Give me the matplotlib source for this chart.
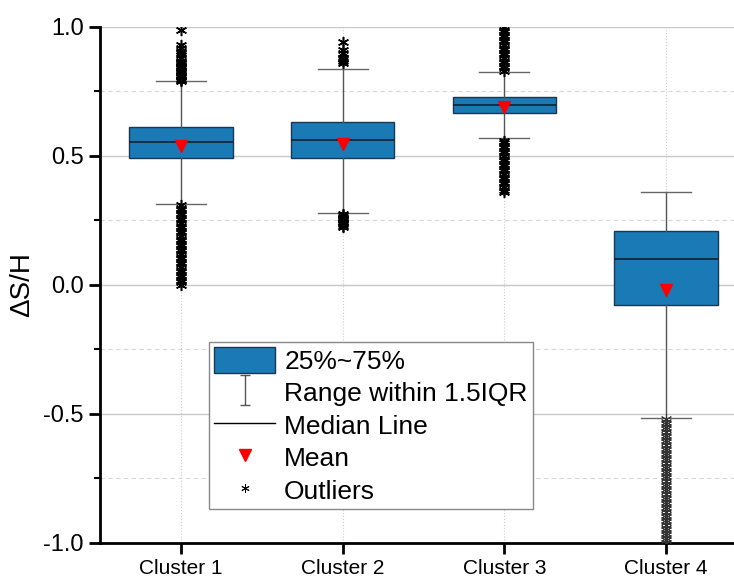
import matplotlib
matplotlib.use("Agg")
import matplotlib.pyplot as plt
from matplotlib.lines import Line2D
from matplotlib.patches import Patch
from matplotlib.path import Path

plt.rcParams['font.family'] = ['Liberation Sans', 'DejaVu Sans']

# ---------- data ----------
clusters = ["Cluster 1", "Cluster 2", "Cluster 3", "Cluster 4"]
q1 = [0.492, 0.492, 0.665, -0.078]
median = [0.554, 0.562, 0.698, 0.100]
q3 = [0.612, 0.632, 0.728, 0.209]
mean = [0.539, 0.545, 0.690, -0.020]
whisker_low = [0.314, 0.280, 0.568, -0.516]
whisker_high = [0.790, 0.837, 0.824, 0.360]

outliers_c1 = [0.79, 0.795, 0.80, 0.805, 0.81, 0.815, 0.82, 0.825, 0.83, 0.835,
               0.84, 0.845, 0.85, 0.855, 0.86, 0.865, 0.87, 0.88, 0.89, 0.90,
               0.905, 0.92, 0.93, 0.99,
               0.31, 0.30, 0.29, 0.28, 0.27, 0.26, 0.25, 0.24, 0.23, 0.22,
               0.21, 0.20, 0.19, 0.18, 0.17, 0.16, 0.15, 0.14, 0.13, 0.12,
               0.11, 0.10, 0.09, 0.08, 0.07, 0.06, 0.05, 0.04, 0.03, 0.02,
               0.01, 0.0]
outliers_c2 = [0.86, 0.87, 0.875, 0.88, 0.90, 0.91, 0.94,
               0.275, 0.27, 0.265, 0.26, 0.255, 0.25, 0.245, 0.24, 0.235,
               0.23, 0.225]
outliers_c3 = [0.83, 0.84, 0.85, 0.86, 0.87, 0.88, 0.89, 0.90, 0.91, 0.92,
               0.93, 0.94, 0.95, 0.96, 0.97, 0.98, 0.99, 1.0,
               0.56, 0.55, 0.54, 0.53, 0.52, 0.51, 0.50, 0.49, 0.48, 0.47,
               0.46, 0.45, 0.44, 0.43, 0.42, 0.41, 0.40, 0.39, 0.38, 0.37,
               0.36]
outliers_c4 = [-0.52, -0.53, -0.54, -0.55, -0.56, -0.57, -0.58, -0.59, -0.60,
               -0.61, -0.62, -0.63, -0.64, -0.65, -0.66, -0.67, -0.68, -0.69,
               -0.70, -0.71, -0.72, -0.73, -0.74, -0.75, -0.76, -0.77, -0.78,
               -0.79, -0.80, -0.81, -0.82, -0.83, -0.84, -0.85, -0.86, -0.87,
               -0.88, -0.89, -0.90, -0.91, -0.92, -0.93, -0.94, -0.95, -0.96,
               -0.97, -0.98, -0.99, -1.0]
outliers = [outliers_c1, outliers_c2, outliers_c3, outliers_c4]

box_color = "#1a7ab5"
asterisk = (6, 2, 0)

stats = []
for i in range(len(clusters)):
    stats.append(dict(label=clusters[i], q1=q1[i], med=median[i], q3=q3[i],
                      mean=mean[i], whislo=whisker_low[i],
                      whishi=whisker_high[i], fliers=outliers[i]))

fig = plt.figure(figsize=(7.34, 5.79), dpi=100)
ax = fig.add_axes([0.1362, 0.0622, 0.8638, 0.8912])

positions = list(range(1, len(clusters) + 1))
parts = ax.bxp(stats, positions=positions, widths=0.64, showmeans=True,
               patch_artist=True,
               boxprops=dict(facecolor=box_color, edgecolor="#1c3550", linewidth=1),
               medianprops=dict(color="#0d2236", linewidth=1.2),
               whiskerprops=dict(color="#555555", linewidth=1),
               capprops=dict(color="#666666", linewidth=1),
               capwidths=0.31,
               meanprops=dict(marker="v", markerfacecolor="red",
                              markeredgecolor="red", markersize=9),
               flierprops=dict(marker=asterisk, markeredgecolor="black",
                               markersize=8, markeredgewidth=1.1),
               zorder=3)
# cluster 4 outliers look lighter / speckled in the original
parts["fliers"][3].set_markeredgewidth(0.7)
parts["fliers"][3].set_markeredgecolor("#333333")

ax.set_xlim(0.5, 4.42)
ax.set_ylim(-1.0, 1.0)
ax.set_xticks(positions)
ax.set_xticklabels(clusters, fontsize=15)
ax.set_yticks([-1.0, -0.5, 0.0, 0.5, 1.0])
ax.set_yticklabels(["-1.0", "-0.5", "0.0", "0.5", "1.0"], fontsize=17)
ax.set_yticks([-0.75, -0.25, 0.25, 0.75], minor=True)
ax.set_ylabel("ΔS/H", fontsize=20, labelpad=6)

ax.grid(axis="y", which="major", color="#c8c8c8", linewidth=1, zorder=0)
ax.grid(axis="y", which="minor", color="#d8d8d8", linewidth=0.8,
        linestyle=(0, (4, 3)), zorder=0)
ax.grid(axis="x", which="major", color="#cccccc", linewidth=0.8,
        linestyle=":", zorder=0)
ax.set_axisbelow(True)

for side in ["top", "right"]:
    ax.spines[side].set_visible(False)
for side in ["left", "bottom"]:
    ax.spines[side].set_linewidth(2)
ax.tick_params(which="major", length=8, width=2)
ax.tick_params(which="minor", length=4, width=1.5)
ax.tick_params(axis="x", which="minor", length=0)

# I-beam marker for the whisker legend entry
ibeam = Path([(-0.35, 1), (0.35, 1), (0, 1), (0, -1), (-0.35, -1), (0.35, -1)],
             [Path.MOVETO, Path.LINETO, Path.MOVETO, Path.LINETO,
              Path.MOVETO, Path.LINETO])

handles = [
    Patch(facecolor=box_color, edgecolor="#1c3550", linewidth=1),
    Line2D([], [], linestyle="none", marker=ibeam, markersize=22,
           markeredgecolor="#555555", markeredgewidth=1),
    Line2D([], [], color="black", linewidth=1),
    Line2D([], [], linestyle="none", marker="v", color="red", markersize=8),
    Line2D([], [], linestyle="none", marker=asterisk, markeredgecolor="black",
           markersize=6, markeredgewidth=0.7),
]
labels = ["25%~75%", "Range within 1.5IQR", "Median Line", "Mean", "Outliers"]
leg = ax.legend(handles, labels, loc="lower left",
                bbox_to_anchor=(0.172, 0.066), borderaxespad=0, fontsize=19,
                handlelength=2.3, handleheight=1.1, labelspacing=0.22,
                handletextpad=0.35, borderpad=0.2, fancybox=False,
                framealpha=1, edgecolor="#888888")
leg.get_frame().set_linewidth(1)

fig.savefig("out.png", dpi=100)
